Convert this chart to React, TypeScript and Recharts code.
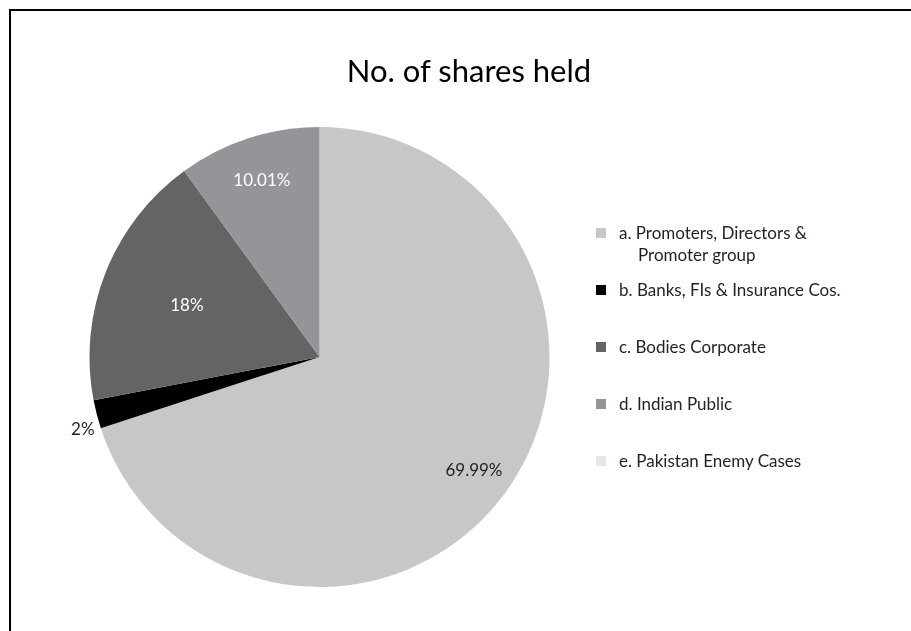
import * as React from "react";
import { PieChart, Pie, Cell, Legend } from "recharts";

const categories = [
  "a. Promoters, Directors & Promoter group",
  "b. Banks, FIs & Insurance Cos.",
  "c. Bodies Corporate",
  "d. Indian Public",
  "e. Pakistan Enemy Cases",
];
const legendLines = [
  ["a. Promoters, Directors &", "Promoter group"],
  ["b. Banks, FIs & Insurance Cos."],
  ["c. Bodies Corporate"],
  ["d. Indian Public"],
  ["e. Pakistan Enemy Cases"],
];
const shares = [69.99, 2, 18, 10.01, 0];
const valueLabels = ["69.99%", "2%", "18%", "10.01%", ""];

const COLORS = ["#c6c7c9", "#000000", "#636466", "#939598", "#e6e7e8"];
const LABEL_COLORS = ["#231f20", "#231f20", "#ffffff", "#ffffff", "#231f20"];
// excel "best fit" label placement, as a fraction of the radius
const LABEL_RADIUS = [0.83, 1.01, 0.62, 0.81, 1];

const FONT = "Lato, 'Open Sans', sans-serif";
const RAD = Math.PI / 180;

const data = categories.map((name, i) => ({ name, value: shares[i] }));

const renderLabel = (props: any) => {
  const { cx, cy, midAngle, outerRadius, index } = props;
  if (!valueLabels[index]) return null;
  const r = outerRadius * LABEL_RADIUS[index];
  const x = cx + r * Math.cos(-midAngle * RAD);
  let y = cy + r * Math.sin(-midAngle * RAD);
  const outside = LABEL_RADIUS[index] > 1;
  if (outside) y += 14;
  return (
    <text
      x={x}
      y={y}
      fill={LABEL_COLORS[index]}
      textAnchor={outside ? "end" : "middle"}
      dominantBaseline="central"
      fontFamily={FONT}
      fontSize={17}
    >
      {valueLabels[index]}
    </text>
  );
};

const renderLegend = () => (
  <div style={{ fontFamily: FONT, fontSize: 17, color: "#231f20" }}>
    {legendLines.map((lines, i) => (
      <div key={i} style={{ position: "relative", height: 57 }}>
        <div
          style={{
            position: "absolute",
            left: 0,
            top: 6,
            width: 10,
            height: 10,
            background: COLORS[i],
          }}
        />
        <div style={{ position: "absolute", left: 23, top: 0, lineHeight: "22px" }}>
          {lines.map((l, j) => (
            <div key={j} style={{ paddingLeft: j > 0 ? 19 : 0, whiteSpace: "nowrap" }}>
              {l}
            </div>
          ))}
        </div>
      </div>
    ))}
  </div>
);

export default function App() {
  React.useEffect(() => {
    document.documentElement.style.overflow = "hidden";
  }, []);
  return (
    <div style={{ position: "relative", width: 895, height: 600 }}>
      <div
        style={{
          position: "fixed",
          left: 9,
          top: 9,
          right: -20,
          bottom: -20,
          borderTop: "2px solid #000",
          borderLeft: "2px solid #000",
        }}
      />
      <div
        style={{
          position: "absolute",
          left: 0,
          width: 922,
          top: 43,
          textAlign: "center",
          fontFamily: FONT,
          fontSize: 31,
          color: "#000",
        }}
      >
        No. of shares held
      </div>
      <div style={{ position: "absolute", left: 0, top: 0 }}>
        <PieChart width={880} height={600} accessibilityLayer={false} style={{ outline: "none" }}>
          <Pie
            data={data}
            dataKey="value"
            nameKey="name"
            cx={306.5}
            cy={344}
            outerRadius={230}
            startAngle={90}
            endAngle={-270}
            stroke="none"
            label={renderLabel}
            labelLine={false}
            isAnimationActive={false}
          >
            {data.map((d, i) => (
              <Cell key={d.name} fill={COLORS[i]} />
            ))}
          </Pie>
          <Legend
            content={renderLegend}
            wrapperStyle={{ position: "absolute", left: 588, top: 214, width: 280, bottom: "auto" }}
          />
        </PieChart>
      </div>
    </div>
  );
}
